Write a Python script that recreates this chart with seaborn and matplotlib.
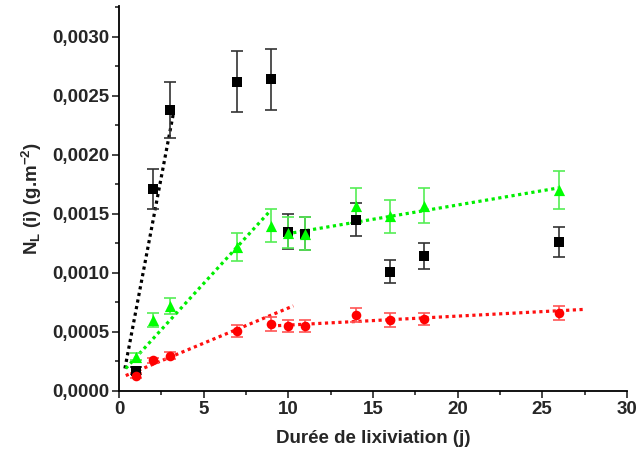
import matplotlib
matplotlib.use("Agg")
import matplotlib.pyplot as plt
import seaborn as sns
import pandas as pd
from matplotlib.ticker import FuncFormatter, MultipleLocator

days = [1, 2, 3, 7, 9, 10, 11, 14, 16, 18, 26]

black_y = [0.00017, 0.00171, 0.00238, 0.00262, 0.00264, 0.00135, 0.00133, 0.00145, 0.00101, 0.00114, 0.00126]
black_err = [0.00003, 0.00017, 0.00024, 0.00026, 0.00026, 0.00015, 0.00014, 0.00014, 0.00010, 0.00011, 0.00013]

green_y = [0.00029, 0.00060, 0.00072, 0.00122, 0.00140, 0.00134, 0.00133, 0.00157, 0.00148, 0.00157, 0.00170]
green_err = [0.00003, 0.00006, 0.00007, 0.00012, 0.00014, 0.00013, 0.00014, 0.00015, 0.00014, 0.00015, 0.00016]

red_y = [0.00013, 0.00026, 0.00030, 0.00051, 0.00057, 0.00055, 0.00055, 0.00064, 0.00060, 0.00061, 0.00066]
red_err = [0.00002, 0.00002, 0.00003, 0.00005, 0.00006, 0.00005, 0.00005, 0.00006, 0.00006, 0.00005, 0.00006]

# dotted fit segments (end points)
fits = [
    ("black", [0.35, 3.2], [0.00019, 0.00234]),
    ("#00ee00", [0.4, 8.9], [0.00019, 0.00152]),
    ("#00ee00", [9.9, 26.0], [0.00133, 0.00172]),
    ("#ff1010", [0.4, 10.3], [0.00013, 0.00072]),
    ("#ff1010", [9.0, 27.4], [0.00055, 0.00069]),
]

sns.set_style("ticks")
plt.rcParams["font.family"] = ["Liberation Sans", "DejaVu Sans"]
plt.rcParams["font.weight"] = "bold"
plt.rcParams["mathtext.fontset"] = "custom"
plt.rcParams["mathtext.rm"] = "Liberation Sans:bold"
plt.rcParams["mathtext.default"] = "rm"

fig = plt.figure(figsize=(6.38, 4.61), dpi=100)
ax = fig.add_axes([0.1865, 0.152, 0.796, 0.835])

for color, fx, fy in fits:
    sns.lineplot(x=fx, y=fy, color=color, lw=2.3, linestyle=(0, (1, 1.1)), ax=ax, zorder=2)

series = [
    (black_y, black_err, "black", "#333333", "s", 42),
    (green_y, green_err, "#00ff00", "#55ee55", "^", 65),
    (red_y, red_err, "#ff0000", "#ff5555", "o", 48),
]
for ys, errs, col, ecol, mk, size in series:
    ax.errorbar(days, ys, yerr=errs, fmt="none", ecolor=ecol, elinewidth=1.2,
                capsize=4, capthick=1.2, zorder=3)
    df = pd.DataFrame({"t": days, "v": ys})
    sns.scatterplot(data=df, x="t", y="v", color=col, marker=mk, s=size,
                    edgecolor=col, linewidth=0, ax=ax, zorder=4)

ax.set_xlim(0, 30)
ax.set_ylim(0, 0.00326)
ax.xaxis.set_major_locator(MultipleLocator(5))
ax.xaxis.set_minor_locator(MultipleLocator(2.5))
ax.yaxis.set_major_locator(MultipleLocator(0.0005))
ax.yaxis.set_minor_locator(MultipleLocator(0.00025))
ax.yaxis.set_major_formatter(FuncFormatter(lambda v, p: f"{v:.4f}".replace(".", ",")))
ax.tick_params(which="major", length=5, width=1.2, labelsize=13.5, direction="out", pad=2)
ax.tick_params(which="minor", length=3, width=1.2, direction="out")
for lab in ax.get_xticklabels() + ax.get_yticklabels():
    lab.set_fontweight("bold")
for s in ["left", "bottom"]:
    ax.spines[s].set_linewidth(1.3)
    ax.spines[s].set_color("black")
sns.despine(ax=ax)

ax.set_xlabel("Durée de lixiviation (j)", fontsize=13.5, fontweight="bold", labelpad=9)
ax.set_ylabel(r"N$_{\mathrm{L}}$ (i) (g.m$^{\mathrm{-2}}$)", fontsize=13.5, fontweight="bold", labelpad=6)

fig.savefig("out.png", dpi=100)
